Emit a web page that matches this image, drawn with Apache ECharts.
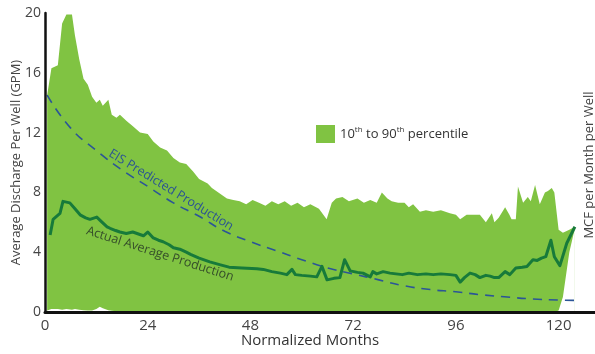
<!DOCTYPE html>
<html>
<head>
<meta charset="utf-8">
<script src="https://cdn.jsdelivr.net/npm/echarts@6/dist/echarts.min.js"></script>
<style>
html,body{margin:0;padding:0;background:#ffffff;}
#chart{width:595px;height:354px;}
</style>
</head>
<body>
<div id="chart"></div>
<script>
// ---- data ----
var bandMonths = [0.5,1.5,3,4,5,6.3,7,8,9,10,11,12,12.8,13.5,14.8,15.6,16.7,17.5,19,20.6,22.2,24,25.3,26.9,28.5,30,31.5,33,34.6,36,38,39,41,42.5,44,45.5,47,48.5,50,51.5,53,54.5,56,57.5,59,60.5,62,64,65.8,67,68,69.5,71,73,74.5,76,77.5,78.7,80,81,82.5,84,85,86,87.6,89,90.7,92.5,94.6,96,97,98.5,100,101.6,103,104.4,105,106,107.5,108.5,109,110,110.5,111.7,112.8,113.5,114.5,115.6,116.8,117.5,118.4,119,120,121,122.5,123.8];
var band90 = [14.5,16.3,16.5,19.3,19.9,19.9,18.5,16.9,15.6,15.2,14.4,14.0,14.2,13.8,14.2,13.2,13.0,13.2,12.8,12.4,12.0,11.9,11.4,11.0,10.8,10.3,10.0,9.9,9.4,8.9,8.6,8.3,7.9,7.6,7.5,7.4,7.2,7.5,7.3,7.1,7.4,7.2,7.4,7.1,7.3,7.0,7.2,6.9,6.2,7.3,7.6,7.7,7.4,7.6,7.3,7.5,7.3,8.0,7.6,7.4,7.3,7.3,7.0,7.2,6.7,6.8,6.7,6.8,6.6,6.5,6.2,6.5,6.5,6.5,6.0,6.6,6.0,6.3,7.0,6.5,6.2,6.2,8.4,7.3,7.7,7.4,8.5,7.2,8.0,8.1,8.3,8.0,5.5,5.3,5.5,5.7];
var band10 = [0.1,0.2,0.2,0.15,0.2,0.15,0.2,0.15,0.12,0.1,0.1,0.2,0.35,0.25,0.12,0.08,0.05,0.03,0,0,0,0,0,0,0,0,0,0,0,0,0,0,0,0,0,0,0,0,0,0,0,0,0,0,0,0,0,0,0,0,0,0,0,0,0,0,0,0,0,0,0,0,0,0,0,0,0,0,0,0,0,0,0,0,0,0,0,0,0,0,0,0,0,0,0,0,0,0,0,0,0,0,0.1,1.0,4.0,5.6];

var actualMonths = [1.2,1.9,3.5,4.2,5.8,7,8.2,9.5,10.5,12.1,13,14.5,15.2,16.5,17.5,19,20.5,22,23,24,25.3,26.5,27.6,29,30,31.5,33,34,36,38.5,41,43,46,49.5,51,53,55,56.5,57.7,58.5,60,62,63.5,64.7,65.9,67.5,68.9,70,71.3,73,74.3,76,76.6,77.5,79,80.6,82,83.5,85,87,89,90.7,92.5,94.6,96,97,98,99.3,100.5,101.6,103,104,105,106,107.5,108.6,110,111.5,112.6,114,115,116,117,118.2,119,120.3,121.9,123.8];
var actualValues = [5.15,6.2,6.6,7.4,7.3,6.9,6.5,6.3,6.2,6.35,6.1,5.7,5.6,5.45,5.35,5.25,5.35,5.2,5.1,5.35,4.95,4.8,4.7,4.5,4.3,4.2,4.0,3.85,3.6,3.35,3.15,3.0,2.95,2.9,2.85,2.7,2.6,2.5,2.85,2.5,2.45,2.4,2.35,3.05,2.15,2.25,2.3,3.5,2.75,2.65,2.6,2.35,2.7,2.55,2.7,2.6,2.55,2.5,2.6,2.5,2.55,2.5,2.55,2.5,2.45,2.0,2.3,2.6,2.5,2.3,2.45,2.4,2.3,2.3,2.7,2.5,2.95,3.0,3.05,3.5,3.45,3.6,3.7,4.8,3.7,3.1,4.6,5.7];

var eisMonths = [0.5,6,12,18,24,30,36,42,48,54,60,66,72,78,84,90,96,102,108,114,120,124];
var eisValues = [14.5,12.3,10.8,9.5,8.4,7.3,6.4,5.4,4.7,4.1,3.5,2.95,2.55,2.15,1.75,1.5,1.35,1.15,1.0,0.87,0.8,0.78];

var xTickStep = 24;
var yTickStep = 4;
var legendName = '10th to 90th percentile';
var GREEN = '#80c342';

function pairs(xs, ys){ return xs.map(function(x,i){ return [x, ys[i]]; }); }

var FONT = '"Open Sans", "DejaVu Sans", sans-serif';
var chart = echarts.init(document.getElementById('chart'), null, {renderer:'canvas'});
chart.setOption({
  animation: false,
  backgroundColor: '#ffffff',
  grid: {left: 45, right: 0, top: 13, bottom: 42, containLabel: false, outerBoundsMode: 'none'},
  legend: {
    left: 311, top: 120,
    data: [{name: legendName, icon: 'rect', itemStyle: {color: GREEN, opacity: 1, borderWidth: 0}}],
    itemWidth: 19, itemHeight: 18,
    formatter: function(){ return '10{s|th} to 90{s|th} percentile'; },
    textStyle: {fontFamily: FONT, fontSize: 13, color: '#333',
      rich: {s: {fontFamily: FONT, fontSize: 8, color: '#333', padding: [0,0,8,0]}}}
  },
  xAxis: {
    type: 'value', min: 0, max: 128.5, interval: xTickStep,
    name: 'Normalized Months', nameLocation: 'middle', nameGap: 21, nameMoveOverlap: false,
    nameTextStyle: {fontFamily: FONT, fontSize: 15, color: '#333', padding: [0,20,0,0], verticalAlign: 'top'},
    axisLine: {show: true, lineStyle: {color: '#111', width: 3}},
    axisTick: {show: false},
    splitLine: {show: false},
    axisLabel: {fontFamily: FONT, fontSize: 15, color: '#444', margin: 6,
      formatter: function(v){ return (v % xTickStep === 0) ? String(v) : ''; }},
    z: 10
  },
  yAxis: {
    type: 'value', min: 0, max: 20, interval: yTickStep,
    name: 'Average Discharge Per Well (GPM)', nameLocation: 'middle', nameGap: 22, nameRotate: 90, nameMoveOverlap: false,
    nameTextStyle: {fontFamily: FONT, fontSize: 13, color: '#444', verticalAlign: 'bottom'},
    axisLine: {show: true, lineStyle: {color: '#111', width: 2.5}},
    axisTick: {show: false},
    splitLine: {show: false},
    axisLabel: {fontFamily: FONT, fontSize: 14, color: '#444', margin: 4},
    z: 10
  },
  graphic: [
    {type: 'text', x: 589, y: 165, rotation: Math.PI/2,
      style: {text: 'MCF per Month per Well', fontFamily: FONT, fontSize: 13, fill: '#444', align: 'center', verticalAlign: 'middle'}, z: 10},
    {type: 'text', x: 171, y: 190, rotation: -0.55,
      style: {text: 'EIS Predicted Production', fontFamily: FONT, fontSize: 12.5, fill: '#2a5394', align: 'center', verticalAlign: 'middle'}, z: 10},
    {type: 'text', x: 160, y: 254, rotation: -0.31,
      style: {text: 'Actual Average Production', fontFamily: FONT, fontSize: 12.5, fill: '#344d2a', align: 'center', verticalAlign: 'middle'}, z: 10}
  ],
  series: [
    {name: legendName, type: 'line', symbol: 'none', color: GREEN,
      itemStyle: {color: GREEN},
      lineStyle: {width: 0, opacity: 0}, areaStyle: {color: GREEN, opacity: 1},
      data: pairs(bandMonths, band90), z: 1},
    {name: 'p10', type: 'line', symbol: 'none', silent: true,
      lineStyle: {width: 0, opacity: 0}, areaStyle: {color: '#ffffff', opacity: 1},
      data: pairs(bandMonths, band10), z: 2},
    {name: 'EIS Predicted Production', type: 'line', symbol: 'none', smooth: true,
      lineStyle: {color: '#2b5597', width: 1.6, type: [9,7]},
      data: pairs(eisMonths, eisValues), z: 3},
    {name: 'Actual Average Production', type: 'line', symbol: 'none',
      lineStyle: {color: '#177a3a', width: 3, join: 'round'},
      data: pairs(actualMonths, actualValues), z: 4}
  ]
});
</script>
</body>
</html>
